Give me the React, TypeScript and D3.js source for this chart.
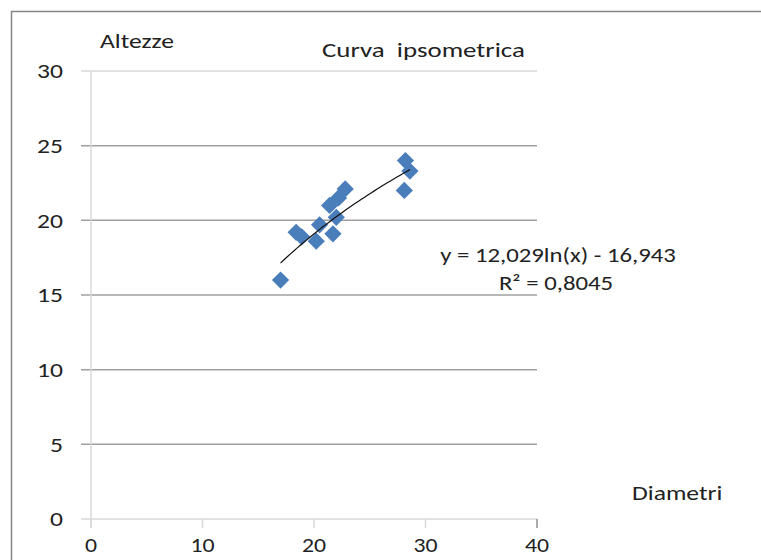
import React from "react";
import * as d3 from "d3";

const diametri = [17.0, 18.4, 18.9, 20.2, 20.5, 21.4, 21.7, 22.0, 22.2, 22.8, 28.2, 28.6, 28.1];
const altezze = [16.0, 19.2, 18.9, 18.6, 19.7, 21.0, 19.1, 20.2, 21.5, 22.1, 24.0, 23.3, 22.0];
const xTicks = [0, 10, 20, 30, 40];
const yTicks = [0, 5, 10, 15, 20, 25, 30];
const trendA = 12.029;
const trendB = -16.943;
const equationLabel = "y = 12,029ln(x) - 16,943";
const r2Label = "R² = 0,8045";

const W = 761;
const H = 560;
const FONT = "Carlito, Calibri, Lato, 'Open Sans', sans-serif";
const SX = 1.22;

function T(props: { x: number; y: number; anchor?: string; size?: number; dy?: string; sx?: number; children: React.ReactNode }) {
  const { x, y, anchor = "start", size = 21, dy, sx = SX, children } = props;
  return (
    <text
      transform={`translate(${x},${y}) scale(${sx},1)`}
      textAnchor={anchor}
      dy={dy}
      fontFamily={FONT}
      fontSize={size}
      fill="#222"
      style={{ whiteSpace: "pre" }}
    >
      {children}
    </text>
  );
}

export default function App() {
  const x = d3.scaleLinear().domain([0, 40]).range([91, 537]);
  const y = d3.scaleLinear().domain([0, 30]).range([519, 71]);
  const xMin = d3.min(diametri) as number;
  const xMax = d3.max(diametri) as number;
  const trendPts = d3.range(0, 41).map((i) => {
    const xv = xMin + ((xMax - xMin) * i) / 40;
    return [xv, trendA * Math.log(xv) + trendB] as [number, number];
  });
  const line = d3
    .line<[number, number]>()
    .x((d) => x(d[0]))
    .y((d) => y(d[1]));
  const diamond = d3.symbol().type(d3.symbolDiamond2).size(190)() as string;

  return (
    <div style={{ position: "absolute", left: 0, top: 0 }}>
      <svg width={W} height={H} style={{ display: "block", background: "#fff" }}>
        <rect x={11.5} y={11.5} width={W + 10} height={H + 10} fill="#fff" stroke="#868686" strokeWidth={1.5} />
        {yTicks.map((t) => (
          <line
            key={"g" + t}
            x1={81}
            x2={537}
            y1={y(t)}
            y2={y(t)}
            stroke={t === 30 || t === 0 ? "#d9d9d9" : "#a0a0a0"}
            strokeWidth={1.5}
          />
        ))}
        <line x1={x(0)} x2={x(0)} y1={y(30)} y2={528} stroke="#d9d9d9" strokeWidth={1.5} />
        {xTicks.map((t) => (
          <line key={"xt" + t} x1={x(t)} x2={x(t)} y1={519} y2={528} stroke={t === 40 ? "#909090" : "#d9d9d9"} strokeWidth={1.5} />
        ))}
        {yTicks.map((t) => (
          <T key={"yl" + t} x={63} y={y(t)} dy="0.35em" anchor="end">
            {String(t)}
          </T>
        ))}
        {xTicks.map((t) => (
          <T key={"xl" + t} x={x(t)} y={545} dy="0.35em" anchor="middle" size={19.5}>
            {String(t)}
          </T>
        ))}
        {diametri.map((d, i) => (
          <path key={"p" + i} d={diamond} transform={`translate(${x(d)},${y(altezze[i])})`} fill="#4a7ebb" />
        ))}
        <path d={line(trendPts) as string} fill="none" stroke="#111" strokeWidth={1.2} />
        <T x={100} y={48}>Altezze</T>
        <T x={322} y={57} sx={1.28}>{"Curva  ipsometrica"}</T>
        <T x={632} y={500}>Diametri</T>
        <T x={558} y={262} anchor="middle" size={20.3}>{equationLabel}</T>
        <T x={556} y={290} anchor="middle" size={20.3}>{r2Label}</T>
      </svg>
    </div>
  );
}
